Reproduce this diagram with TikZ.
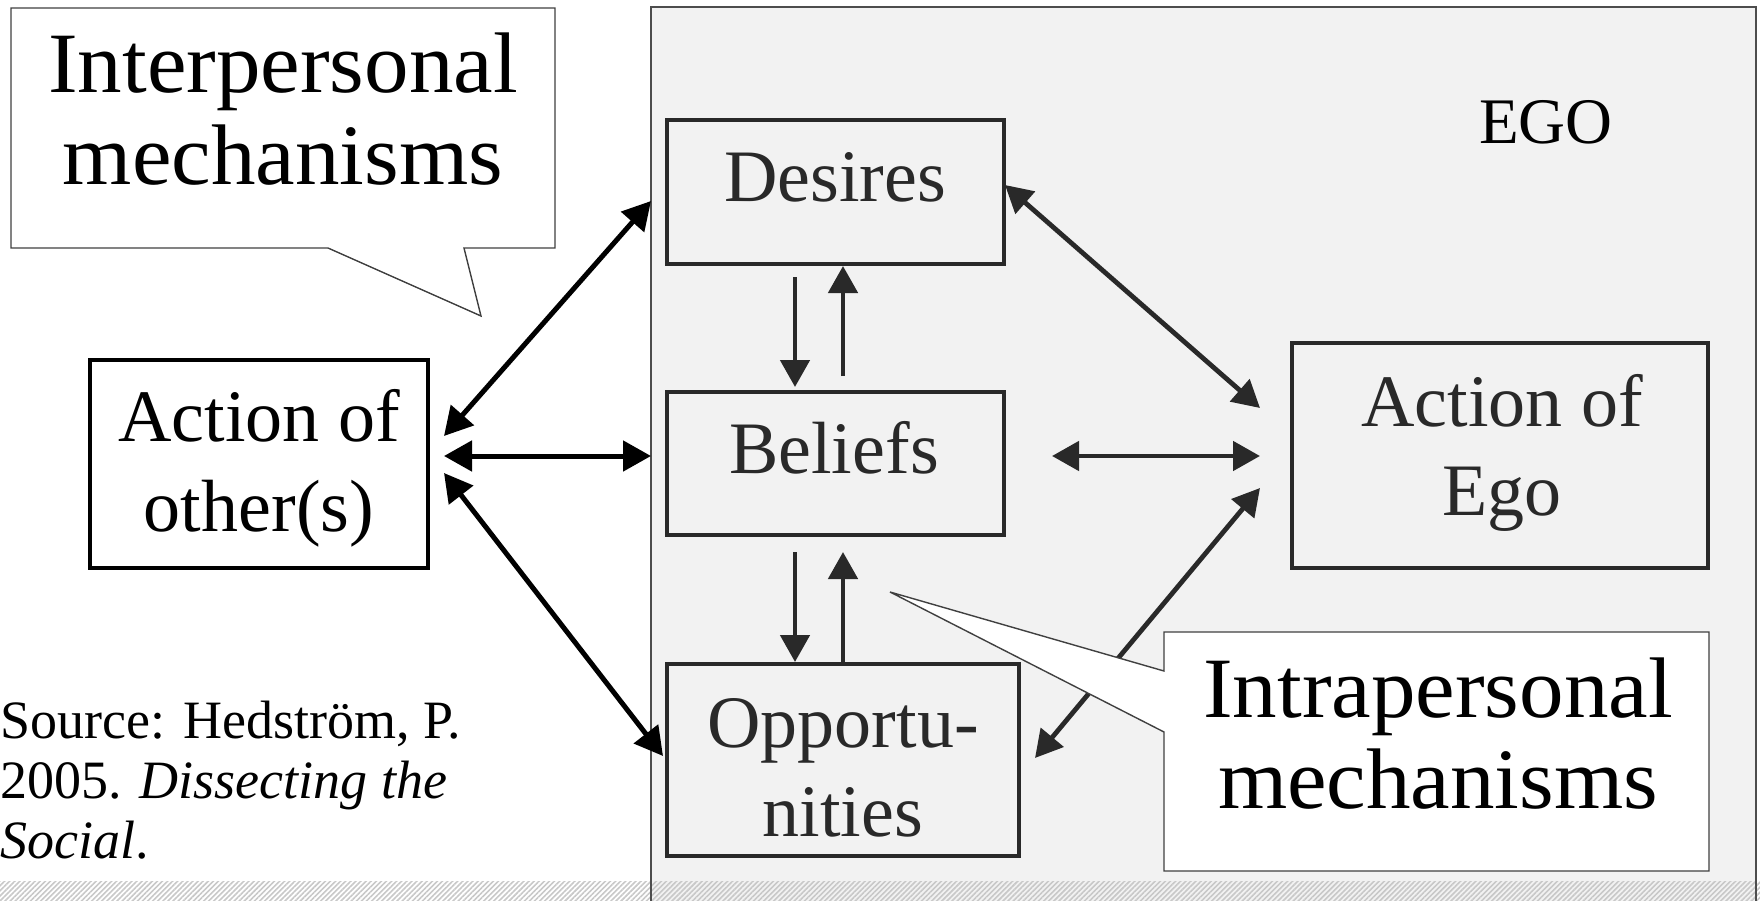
\documentclass[tikz,border=0pt]{standalone}
\usepackage{fontspec}
\setmainfont{Liberation Serif}
\usetikzlibrary{arrows.meta,patterns.meta}

\definecolor{egofill}{HTML}{F2F2F2}
\definecolor{egoline}{HTML}{4D4D4D}
\definecolor{ink}{HTML}{292929}
\definecolor{hatch}{HTML}{C8C8C8}
\definecolor{calloutline}{HTML}{404040}

\newcommand{\widetext}[1]{\scalebox{1.035}[1]{#1}}

\tikzset{
  x=1pt, y=-1pt,
  stepbox/.style={draw=ink, line width=3.5pt, inner sep=0pt},
  otherbox/.style={draw=black, fill=white, line width=3.5pt, inner sep=0pt},
  boxtext/.style={inner sep=0pt, anchor=base, text=ink, font=\fontsize{74}{74}\selectfont},
  othertext/.style={boxtext, text=black},
  callouttext/.style={inner sep=0pt, anchor=base, text=black, font=\fontsize{86}{86}\selectfont},
  callout/.style={draw=calloutline, fill=white, line width=1.4pt, line join=miter},
  linkout/.style={draw=black, line width=5pt, {Triangle[length=28pt, width=30pt]}-{Triangle[length=28pt, width=30pt]}},
  linkin/.style={draw=ink, line width=4.8pt, {Triangle[length=27pt, width=29pt]}-{Triangle[length=27pt, width=29pt]}},
  oneway/.style={draw=ink, line width=4.8pt, -{Triangle[length=27pt, width=29pt]}},
}

\begin{document}
\begin{tikzpicture}
\useasboundingbox (0,0) rectangle (1760,901);

% grey EGO region
\fill[egofill] (651,7) rectangle (1756,901);
% hatched strip along the bottom
\fill[pattern={Lines[angle=45, distance=3.6pt, line width=1.6pt]}, pattern color=hatch] (0,881) rectangle (1760,901);
\draw[egoline, line width=2pt] (651,901) -- (651,7) -- (1756,7) -- (1756,901);

% boxes
\node[otherbox, minimum width=338pt, minimum height=208pt] (oth) at (259,464) {};
\node[stepbox, minimum width=337pt, minimum height=144pt] (des) at (835.5,192) {};
\node[stepbox, minimum width=337pt, minimum height=143pt] (bel) at (835.5,463.5) {};
\node[stepbox, minimum width=352pt, minimum height=192pt] (opp) at (843,760) {};
\node[stepbox, minimum width=416pt, minimum height=225pt] (act) at (1500,455.5) {};

% arrow end points
\coordinate (oA) at (444,436);  \coordinate (dA) at (651,201);
\coordinate (oB) at (444,456);  \coordinate (bA) at (651,456);
\coordinate (oC) at (444,473);  \coordinate (pA) at (663,756);
\coordinate (dB) at (1005,185); \coordinate (eA) at (1260,408);
\coordinate (bB) at (1052,456); \coordinate (eB) at (1260,456);
\coordinate (pB) at (1035,758); \coordinate (eC) at (1260,488);
\coordinate (db1) at (795,277); \coordinate (db2) at (795,387);
\coordinate (bd1) at (843,376); \coordinate (bd2) at (843,266);
\coordinate (bp1) at (795,552); \coordinate (bp2) at (795,662);
\coordinate (pb1) at (843,662); \coordinate (pb2) at (843,552);

% links with the action of others
\draw[linkout] (oA) -- (dA);
\draw[linkout] (oB) -- (bA);
\draw[linkout] (oC) -- (pA);

% links with the action of ego
\draw[linkin] (dB) -- (eA);
\draw[linkin] (bB) -- (eB);
\draw[linkin] (pB) -- (eC);

% desires / beliefs / opportunities
\draw[oneway] (db1) -- (db2);
\draw[oneway] (bd1) -- (bd2);
\draw[oneway] (bp1) -- (bp2);
\draw[oneway] (pb1) -- (pb2);

% speech-bubble callouts
\draw[callout] (11,8) -- (555,8) -- (555,248) -- (464,248) -- (481,316) -- (328,248) -- (11,248) -- cycle;
\draw[callout] (1164,632) -- (1709,632) -- (1709,871) -- (1164,871) -- (1164,732) -- (890,592) -- (1164,671) -- cycle;

% texts
\node[callouttext] (inter1) at (283,93) {\widetext{Interpersonal}};
\node[callouttext] (inter2) at (283,185) {\widetext{mechanisms}};
\node[callouttext] (intra1) at (1438,717) {\widetext{Intrapersonal}};
\node[callouttext] (intra2) at (1438,808) {\widetext{mechanisms}};

\node[othertext] (oth1) at (259,441) {Action of};
\node[othertext] (oth2) at (259,531) {other(s)};

\node[boxtext] (des1) at (835,202) {Desires};
\node[boxtext] (bel1) at (834,473) {Beliefs};
\node[boxtext] (opp1) at (843,747) {Opportu-};
\node[boxtext] (opp2) at (843,836) {nities};
\node[boxtext] (act1) at (1502,426) {Action of};
\node[boxtext] (act2) at (1502,515) {Ego};

\node[inner sep=0pt, anchor=base, font=\fontsize{65}{65}\selectfont] (ego) at (1546,144) {EGO};

\node[inner sep=0pt, anchor=base west, font=\fontsize{54}{54}\selectfont] (src1) at (0,738) {Source: Hedström, P.};
\node[inner sep=0pt, anchor=base west, font=\fontsize{54}{54}\selectfont] (src2) at (0,798) {2005. \textit{Dissecting the}};
\node[inner sep=0pt, anchor=base west, font=\fontsize{54}{54}\selectfont] (src3) at (0,858) {\textit{Social}.};
\end{tikzpicture}
\end{document}
